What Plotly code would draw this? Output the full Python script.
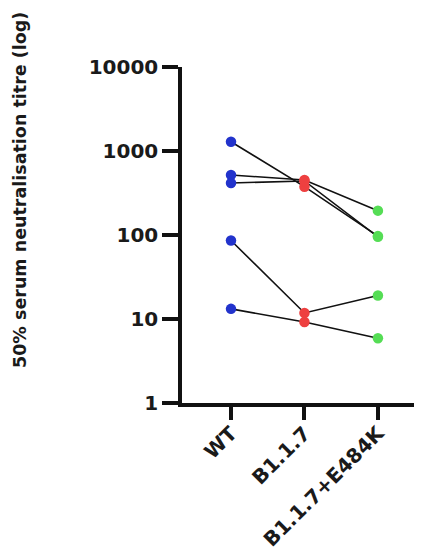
import plotly.graph_objects as go

categories = ["WT", "B1.1.7", "B1.1.7+E484K"]
subject_1 = [1290, 376, 97]
subject_2 = [518, 452, 195]
subject_3 = [416, 440, 95]
subject_4 = [86, 11.8, 19]
subject_5 = [13.2, 9.2, 5.9]
subjects = [subject_1, subject_2, subject_3, subject_4, subject_5]
group_colors = ["#2233cc", "#ee4040", "#55dd55"]
y_tickvals = [1, 10, 100, 1000, 10000]
y_ticktext = ["1", "10", "100", "1000", "10000"]
y_title = "50% serum neutralisation titre (log)"

FONT = "DejaVu Sans"
TXT = "#1a1a1a"

fig = go.Figure()
for s in subjects:
    fig.add_trace(go.Scatter(x=categories, y=s, mode="lines",
                             line=dict(color="#111111", width=1.6),
                             showlegend=False, hoverinfo="skip"))
for i, cat in enumerate(categories):
    fig.add_trace(go.Scatter(x=[cat] * len(subjects), y=[s[i] for s in subjects],
                             mode="markers",
                             marker=dict(color=group_colors[i], size=10.5, line=dict(width=0)),
                             showlegend=False))

fig.update_layout(
    width=414, height=548,
    margin=dict(l=174, r=0, t=59, b=153, autoexpand=False),
    paper_bgcolor="white", plot_bgcolor="white",
    font=dict(family=FONT, color=TXT),
    showlegend=False,
)
fig.update_xaxes(
    type="category", categoryorder="array", categoryarray=categories,
    range=[-0.667, 2.6], automargin=False,
    showline=True, linecolor="#111111", linewidth=3.5,
    ticks="outside", ticklen=13, tickwidth=3.5, tickcolor="#111111",
    tickangle=-45, ticklabelstandoff=-6,
    tickfont=dict(family=FONT, size=20, color=TXT, weight="bold"),
    showgrid=False, zeroline=False,
)
fig.update_yaxes(
    type="log", range=[0, 4], automargin=False,
    tickvals=y_tickvals, ticktext=y_ticktext,
    showline=True, linecolor="#111111", linewidth=3.5,
    ticks="outside", ticklen=16, tickwidth=3.5, tickcolor="#111111",
    tickfont=dict(family=FONT, size=20, color=TXT, weight="bold"),
    showgrid=False, zeroline=False,
)
fig.add_annotation(
    text=y_title, textangle=-90, showarrow=False,
    xref="paper", yref="paper", x=(20 - 182) / 240, y=(403 - 190) / 336,
    xanchor="center", yanchor="middle",
    font=dict(family=FONT, size=17.5, color=TXT, weight="bold"),
)

fig.write_html("out.html")
